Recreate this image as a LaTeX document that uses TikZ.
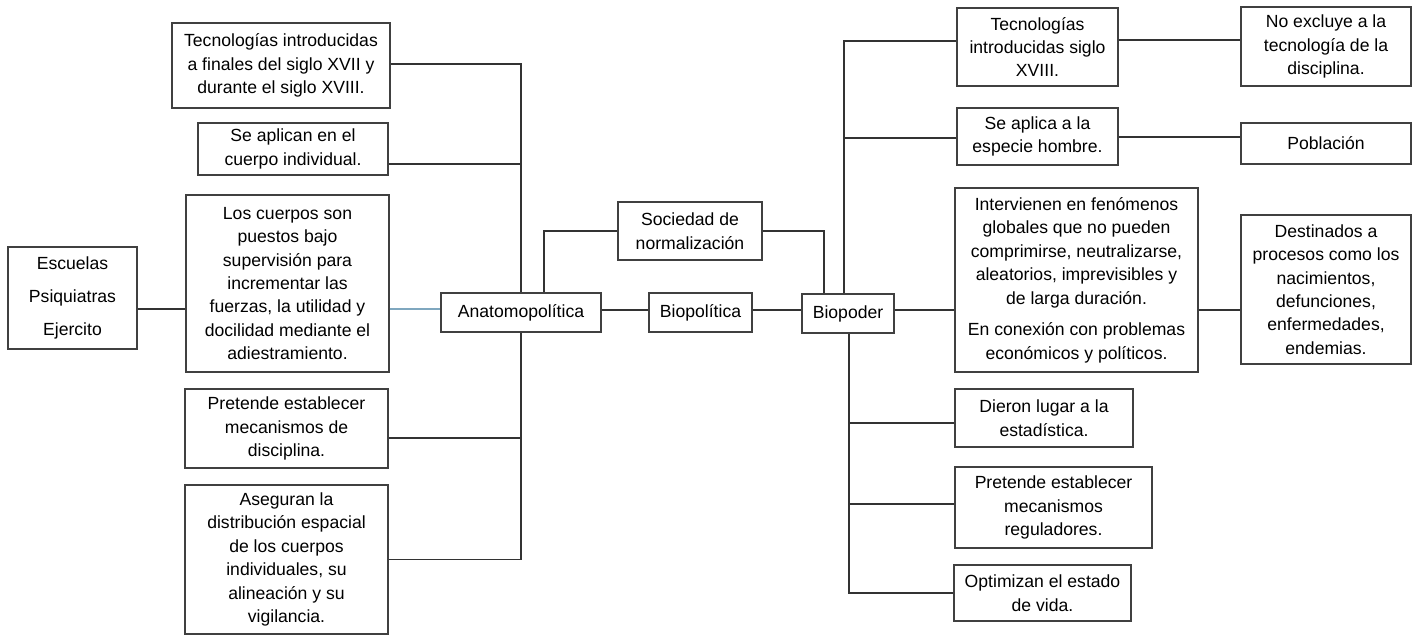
\documentclass[tikz,border=0pt]{standalone}
\usepackage{fontspec}
\setmainfont{Liberation Sans}
\definecolor{lb}{RGB}{127,167,191}
\begin{document}
\begin{tikzpicture}[x=0.75pt,y=-0.75pt,
  bx/.style n args={2}{draw=black!75, line width=0.8pt, align=center, inner sep=0pt,
     minimum width=#1*0.75pt, minimum height=#2*0.75pt,
     font=\fontsize{13.2}{17.6}\selectfont},
  ln/.style={draw=black!80, line width=0.8pt},
  blueln/.style={draw=lb, line width=0.8pt}]
\useasboundingbox[fill=white] (0,0) rectangle (1419,635);

% left column
\node[bx={129}{102}] (esc) at (72.5,298) {Escuelas\\[7pt]Psiquiatras\\[7pt]Ejercito};
\node[bx={218}{85}] (tecA) at (281,65.5) {Tecnologías introducidas\\a finales del siglo XVII y\\durante el siglo XVIII.};
\node[bx={190}{52}] (apl) at (293,149) {Se aplican en el\\cuerpo individual.};
\node[bx={203}{177}] (cue) at (287.5,283.5) {Los cuerpos son\\puestos bajo\\supervisión para\\incrementar las\\fuerzas, la utilidad y\\docilidad mediante el\\adiestramiento.};
\node[bx={203}{79}] (preD) at (286.5,428.5) {Pretende establecer\\mecanismos de\\disciplina.};
\node[bx={203}{149}] (ase) at (286.5,559.5) {Aseguran la\\distribución espacial\\de los cuerpos\\individuales, su\\alineación y su\\vigilancia.};

% middle
\node[bx={160}{39}] (anat) at (521,312.5) {Anatomopolítica};
\node[bx={144}{58}] (soc) at (690,231) {Sociedad de\\normalización};
\node[bx={103}{39}] (biopol) at (700.5,312.5) {Biopolítica};
\node[bx={92}{39}] (biopod) at (848,313.5) {Biopoder};

% right of biopoder
\node[bx={161}{78}] (tecB) at (1037.5,47) {Tecnologías\\introducidas siglo\\XVIII.};
\node[bx={161}{57}] (esp) at (1037.5,136.5) {Se aplica a la\\especie hombre.};
\node[bx={243}{184}] (int) at (1076.5,280) {Intervienen en fenómenos\\globales que no pueden\\comprimirse, neutralizarse,\\aleatorios, imprevisibles y\\de larga duración.\\[6pt]En conexión con problemas\\económicos y políticos.};
\node[bx={178}{58}] (est) at (1044,418) {Dieron lugar a la\\estadística.};
\node[bx={197}{81}] (preR) at (1053.5,507.5) {Pretende establecer\\mecanismos\\reguladores.};
\node[bx={177}{56}] (opt) at (1042.5,593) {Optimizan el estado\\de vida.};

% far right
\node[bx={170}{79}] (noex) at (1326,46.5) {No excluye a la\\tecnología de la\\disciplina.};
\node[bx={170}{41}] (pob) at (1326,143.5) {Población};
\node[bx={170}{149}] (des) at (1326,289.5) {Destinados a\\procesos como los\\nacimientos,\\defunciones,\\enfermedades,\\endemias.};

\coordinate (bt) at (844,0);
\coordinate (bb) at (849,0);

% connectors left
\draw[ln] (esc.east |- 0,309) -- (cue.west |- 0,309);
\draw[ln] (tecA.east |- 0,64) -| (anat.north);
\draw[ln] (apl.east |- 0,164) -- (anat.north |- 0,164);
\draw[blueln] (cue.east |- 0,309) -- (anat.west |- 0,309);
\draw[ln] (anat.south) |- (ase.east);
\draw[ln] (preD.east |- 0,438) -- (anat.south |- 0,438);

% middle connectors
\draw[ln] (soc.west) -| (anat.north -| 544,0);
\draw[ln] (soc.east) -| (biopod.north -| 824,0);
\draw[ln] (anat.east |- 0,310) -- (biopol.west |- 0,310);
\draw[ln] (biopol.east |- 0,310) -- (biopod.west |- 0,310);
\draw[ln] (biopod.east |- 0,310) -- (int.west |- 0,310);
\draw[ln] (int.east |- 0,310) -- (des.west |- 0,310);

% biopoder upper
\draw[ln] (biopod.north -| bt) |- (tecB.west |- 0,41);
\draw[ln] (esp.west |- 0,138) -- (bt |- 0,138);
\draw[ln] (tecB.east |- 0,40) -- (noex.west |- 0,40);
\draw[ln] (esp.east |- 0,137) -- (pob.west |- 0,137);

% biopoder lower
\draw[ln] (biopod.south -| bb) |- (opt.west);
\draw[ln] (est.west |- 0,423) -- (bb |- 0,423);
\draw[ln] (preR.west |- 0,504) -- (bb |- 0,504);
\end{tikzpicture}
\end{document}
